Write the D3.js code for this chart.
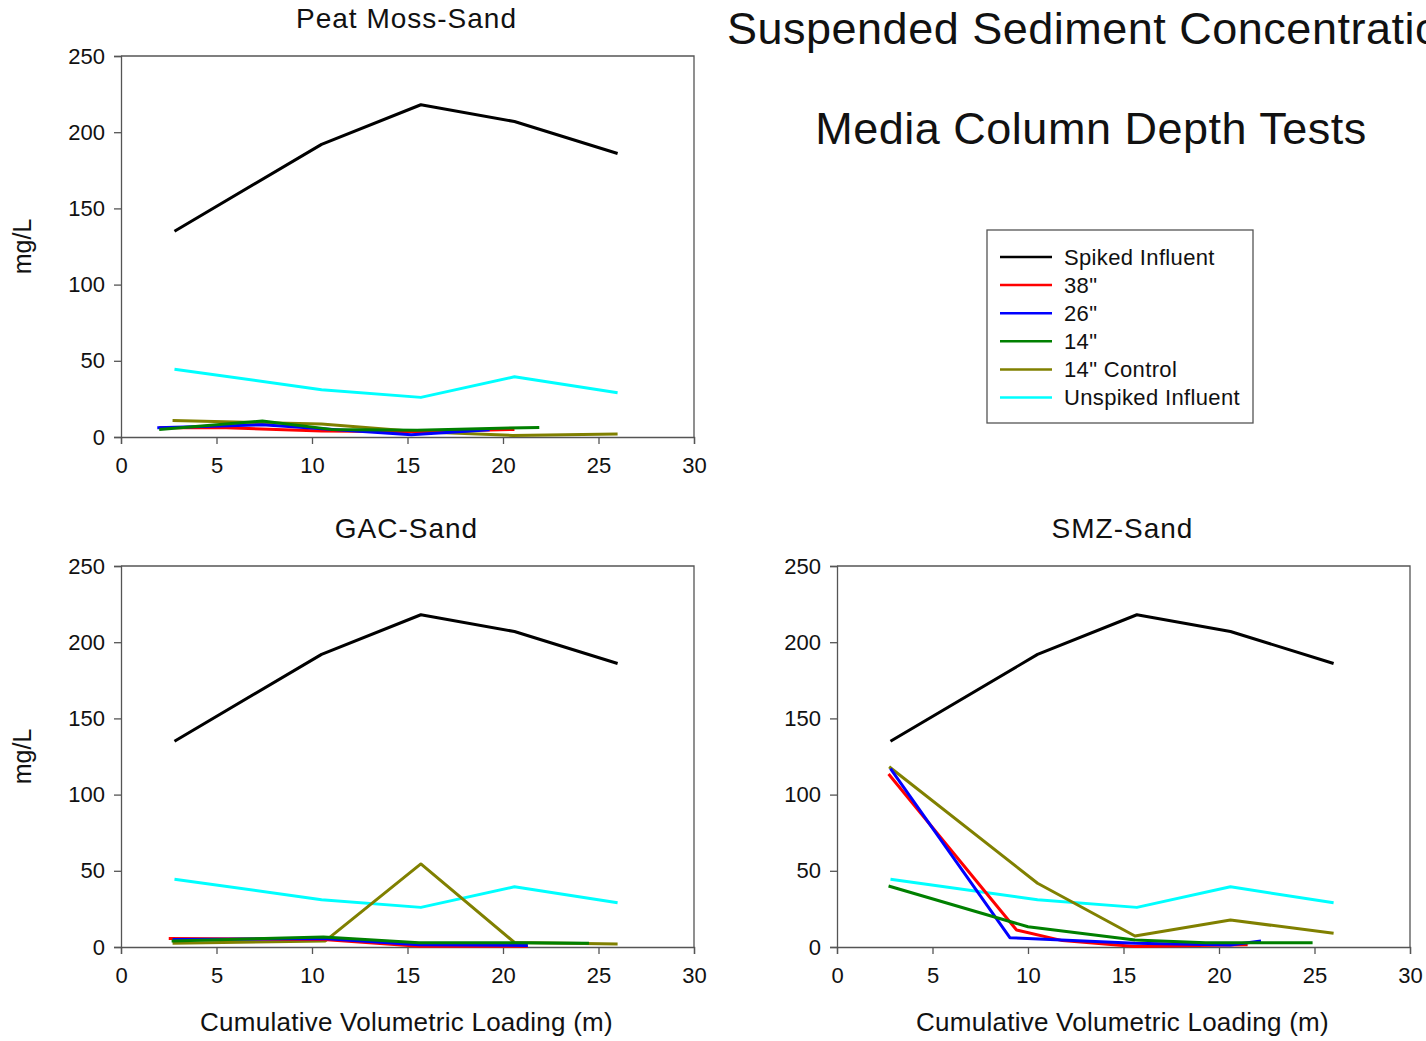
<!DOCTYPE html>
<html>
<head>
<meta charset="utf-8">
<script src="https://cdn.jsdelivr.net/npm/d3@7"></script>
<style>
  body { margin: 0; background: #fff; }
  text { font-family: "Liberation Sans", Arial, sans-serif; fill: #111; }
</style>
</head>
<body>
<div class="canvas"></div>
<script>
// ---- data ----
const xTicks = [0, 5, 10, 15, 20, 25, 30];
const yTicks = [0, 50, 100, 150, 200, 250];

const seriesNames = ['Spiked Influent', '38"', '26"', '14"', '14" Control', 'Unspiked Influent'];
const seriesColors = ['#000000', '#ff0000', '#0000ff', '#008000', '#808000', '#00ffff'];

// influent is the same in every panel
const influentX = [2.8, 10.5, 15.7, 20.6, 26.0];
const spikedInfluent = [135, 192, 218, 207, 186];
const unspikedInfluent = [44.5, 31, 26, 39.5, 29];

// Peat Moss-Sand
const peat38X = [2.0, 5.5, 10.5, 15.6, 20.6];
const peat38Y = [6, 6, 4, 3.5, 5];
const peat26X = [1.9, 7.4, 15.2, 19.3];
const peat26Y = [6, 8, 1.5, 4.7];
const peat14X = [2.0, 7.4, 11.0, 15.5, 21.9];
const peat14Y = [5, 10.5, 5, 4.5, 6.3];
const peatCtlX = [2.7, 10.5, 15.6, 20.5, 26.0];
const peatCtlY = [10.8, 8.5, 3.5, 1, 2];

// GAC-Sand
const gac38X = [2.5, 10.6, 15.6, 21.3];
const gac38Y = [5.5, 5, 0.5, 0.5];
const gac26X = [2.7, 10.6, 15.6, 21.3];
const gac26Y = [5, 5.5, 1.5, 1];
const gac14X = [2.65, 10.6, 15.6, 20.6, 24.5];
const gac14Y = [4, 6.5, 2.8, 2.8, 2.5];
const gacCtlX = [2.7, 10.7, 15.7, 20.6, 26.0];
const gacCtlY = [2.4, 4, 54.5, 3, 2];

// SMZ-Sand
const smz38X = [2.7, 9.4, 11.8, 15.6, 20.6, 21.5];
const smz38Y = [113.5, 11.2, 4.2, 0.3, 1.3, 1.5];
const smz26X = [2.8, 9.05, 15.6, 20.6, 22.2];
const smz26Y = [117, 6.1, 2.4, 1.3, 4];
const smz14X = [2.7, 10.0, 15.6, 19.3, 24.9];
const smz14Y = [40, 13.3, 4.6, 2.8, 2.8];
const smzCtlX = [2.73, 10.5, 15.6, 20.6, 26.0];
const smzCtlY = [118.3, 41.8, 7.2, 17.7, 9];

const panels = [
  { title: 'Peat Moss-Sand', left: 121, top: 56, yLabel: true, xLabel: false,
    xs: [influentX, peat38X, peat26X, peat14X, peatCtlX, influentX],
    ys: [spikedInfluent, peat38Y, peat26Y, peat14Y, peatCtlY, unspikedInfluent] },
  { title: 'GAC-Sand', left: 121, top: 566, yLabel: true, xLabel: true,
    xs: [influentX, gac38X, gac26X, gac14X, gacCtlX, influentX],
    ys: [spikedInfluent, gac38Y, gac26Y, gac14Y, gacCtlY, unspikedInfluent] },
  { title: 'SMZ-Sand', left: 837, top: 566, yLabel: false, xLabel: true,
    xs: [influentX, smz38X, smz26X, smz14X, smzCtlX, influentX],
    ys: [spikedInfluent, smz38Y, smz26Y, smz14Y, smzCtlY, unspikedInfluent] }
];

// ---- layout ----
const width = 1426;
const height = 1041;
const plotWidth = 573;
const plotHeight = 381;

const svg = d3.select('.canvas').append('svg')
  .attr('width', width)
  .attr('height', height);

const x = d3.scaleLinear().domain([0, 30]).range([0, plotWidth]);
const y = d3.scaleLinear().domain([0, 250]).range([plotHeight, 0]);

// spiked / unspiked first, depth columns on top
const drawOrder = [0, 5, 4, 1, 2, 3];

panels.forEach(p => {
  const graph = svg.append('g')
    .attr('transform', `translate(${p.left}, ${p.top})`);

  // frame (top + right)
  graph.append('path')
    .attr('d', `M0,0H${plotWidth}V${plotHeight}`)
    .attr('fill', 'none')
    .attr('stroke', '#555')
    .attr('stroke-width', 1.3);

  const xAxis = d3.axisBottom(x).tickValues(xTicks).tickSize(7).tickPadding(13);
  const yAxis = d3.axisLeft(y).tickValues(yTicks).tickSize(7).tickPadding(9);

  const xg = graph.append('g')
    .attr('transform', `translate(0, ${plotHeight})`)
    .call(xAxis);
  const yg = graph.append('g').call(yAxis);

  [xg, yg].forEach(g => {
    g.select('.domain').attr('stroke', '#555').attr('stroke-width', 1.3);
    g.selectAll('.tick line').attr('stroke', '#555').attr('stroke-width', 1.3);
    g.selectAll('.tick text')
      .attr('font-size', 22)
      .attr('font-family', '"Liberation Sans", Arial, sans-serif')
      .attr('fill', '#111');
  });

  // lines
  const line = d3.line()
    .x(d => x(d[0]))
    .y(d => y(d[1]));

  drawOrder.forEach(i => {
    const pts = p.xs[i].map((v, j) => [v, p.ys[i][j]]);
    graph.append('path')
      .datum(pts)
      .attr('d', line)
      .attr('fill', 'none')
      .attr('stroke', seriesColors[i])
      .attr('stroke-width', 3)
      .attr('stroke-linejoin', 'round');
  });

  // titles
  graph.append('text')
    .attr('x', plotWidth / 2 - 1)
    .attr('y', -28)
    .attr('text-anchor', 'middle')
    .attr('font-size', 28)
    .attr('letter-spacing', 1)
    .text(p.title);

  if (p.yLabel) {
    graph.append('text')
      .attr('transform', `translate(-90, ${plotHeight / 2}) rotate(-90)`)
      .attr('text-anchor', 'middle')
      .attr('font-size', 25)
      .text('mg/L');
  }
  if (p.xLabel) {
    graph.append('text')
      .attr('x', plotWidth / 2 - 1)
      .attr('y', plotHeight + 84)
      .attr('text-anchor', 'middle')
      .attr('font-size', 26)
      .attr('letter-spacing', 0.25)
      .text('Cumulative Volumetric Loading (m)');
  }
});

// main title
svg.append('text')
  .attr('x', 727)
  .attr('y', 44)
  .attr('font-size', 45)
  .attr('letter-spacing', 0.5)
  .text('Suspended Sediment Concentration');

svg.append('text')
  .attr('x', 1091)
  .attr('y', 144)
  .attr('text-anchor', 'middle')
  .attr('font-size', 45)
  .attr('letter-spacing', 0.5)
  .text('Media Column Depth Tests');

// legend
const legend = svg.append('g').attr('transform', 'translate(987, 230)');
legend.append('rect')
  .attr('width', 266)
  .attr('height', 193)
  .attr('fill', '#fff')
  .attr('stroke', '#555')
  .attr('stroke-width', 1.3);

const items = legend.selectAll('g.item')
  .data(seriesNames)
  .enter().append('g')
  .attr('class', 'item')
  .attr('transform', (d, i) => `translate(0, ${27 + i * 28.1})`);

items.append('line')
  .attr('x1', 13).attr('x2', 65)
  .attr('stroke', (d, i) => seriesColors[i])
  .attr('stroke-width', 2.5);

items.append('text')
  .attr('x', 77)
  .attr('dy', '0.35em')
  .attr('font-size', 22)
  .attr('letter-spacing', 0.35)
  .text(d => d);
</script>
</body>
</html>
